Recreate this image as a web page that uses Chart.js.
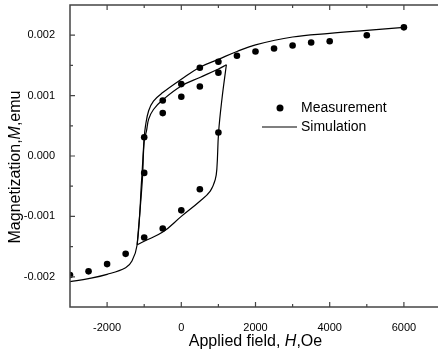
<!DOCTYPE html>
<html>
<head>
<meta charset="utf-8">
<script src="https://cdn.jsdelivr.net/npm/chart.js@4.4.1/dist/chart.umd.min.js"></script>
<style>
  html, body { margin: 0; padding: 0; overflow: hidden; background: #fff; }
  #wrap { position: absolute; left: 0; top: 0; width: 445px; height: 356px; }
</style>
</head>
<body>
<div id="wrap"><canvas id="loop"></canvas></div>
<script>
// measured moment (emu) vs applied field (Oe)
const measH = [-3000, -2500, -2000, -1500, -1000, -500, 0, 500, 1000,
               -500, 0, 500, 1000,
               -1000, -500, 0, 500, 1000, 1500, 2000, 2500, 3000, 3500, 4000, 5000, 6000,
               -1000];
const measM = [-0.00197, -0.00191, -0.00179, -0.00162, -0.00135, -0.00120, -0.00090, -0.00055, 0.00039,
               0.00071, 0.00098, 0.00115, 0.00138,
               0.00031, 0.00092, 0.00119, 0.00146, 0.00156, 0.00166, 0.00173, 0.00178, 0.00183, 0.00188, 0.00190, 0.00200, 0.00213,
               -0.00028];

// simulated loop
const outerH = [-3000, -2500, -2000, -1500, -1330, -1190, -1070, -1000, -965, -880, -750, -500, 0, 500, 1000, 1500, 2000, 3000, 4000, 5000, 6000];
const outerM = [-0.00208, -0.00203, -0.00196, -0.00185, -0.00174, -0.00147, -0.00040, 0.00030, 0.00050, 0.00075, 0.00091, 0.00105, 0.00127, 0.00147, 0.00160, 0.00173, 0.00184, 0.00197, 0.00203, 0.00208, 0.00213];
const lowerH = [-1190, -1000, -500, 0, 500, 780, 915, 960, 1005, 1095, 1215];
const lowerM = [-0.00147, -0.00141, -0.00126, -0.00100, -0.00075, -0.00058, -0.00039, -0.00020, 0.00039, 0.00094, 0.00151];
const upperH = [-1190, -1050, -1000, -940, -880, -750, -500, 0, 500, 1000, 1215];
const upperM = [-0.00147, -0.00040, 0.00025, 0.00041, 0.00061, 0.00077, 0.00093, 0.00116, 0.00130, 0.00144, 0.00151];

const xTicks = [-2000, 0, 2000, 4000, 6000];
const xMinor = [-1000, 1000, 3000, 5000];
const yTicks = [-0.002, -0.001, 0, 0.001, 0.002];
const yMinor = [-0.0015, -0.0005, 0.0005, 0.0015];

const FONT = '"Liberation Sans", Arial, sans-serif';

const pts = (hs, ms) => hs.map((h, i) => ({ x: h, y: ms[i] }));

function simLine(hs, ms) {
  return {
    label: 'Simulation', data: pts(hs, ms), showLine: true,
    borderColor: '#000', borderWidth: 1.2, pointRadius: 0,
    tension: 0.4, fill: false, clip: 0
  };
}

// mixed upright/italic text, centred on (0,0) of current transform
function mixedText(ctx, parts, size) {
  let total = 0;
  const widths = parts.map(([txt, it]) => {
    ctx.font = (it ? 'italic ' : '') + size + 'px ' + FONT;
    const w = ctx.measureText(txt).width; total += w; return w;
  });
  let x = -total / 2;
  parts.forEach(([txt, it], i) => {
    ctx.font = (it ? 'italic ' : '') + size + 'px ' + FONT;
    ctx.fillText(txt, x, 0);
    x += widths[i];
  });
}

const decor = {
  id: 'decor',
  afterDraw(chart) {
    const { ctx, chartArea: a, scales: { x, y } } = chart;
    ctx.save();
    ctx.strokeStyle = '#444';
    ctx.lineWidth = 1.5;
    ctx.strokeRect(a.left, a.top, a.right - a.left, a.bottom - a.top);

    // inward ticks
    ctx.lineWidth = 1.2;
    ctx.beginPath();
    const xt = (v, len) => {
      const px = x.getPixelForValue(v);
      ctx.moveTo(px, a.bottom); ctx.lineTo(px, a.bottom - len);
      ctx.moveTo(px, a.top); ctx.lineTo(px, a.top + len);
    };
    const yt = (v, len) => {
      const py = y.getPixelForValue(v);
      ctx.moveTo(a.left, py); ctx.lineTo(a.left + len, py);
    };
    xTicks.forEach(v => xt(v, 5)); xMinor.forEach(v => xt(v, 3));
    yTicks.forEach(v => yt(v, 5)); yMinor.forEach(v => yt(v, 3));
    ctx.stroke();

    // legend
    ctx.fillStyle = '#000';
    ctx.beginPath(); ctx.arc(280, 108, 3.5, 0, Math.PI * 2); ctx.fill();
    ctx.strokeStyle = '#000'; ctx.lineWidth = 1.2;
    ctx.beginPath(); ctx.moveTo(262, 127); ctx.lineTo(297, 127); ctx.stroke();
    ctx.font = '14px ' + FONT;
    ctx.textBaseline = 'middle'; ctx.textAlign = 'left';
    ctx.fillText('Measurement', 301, 108);
    ctx.fillText('Simulation', 301, 127);

    // axis titles
    ctx.save();
    ctx.translate((a.left + a.right) / 2, 342);
    mixedText(ctx, [['Applied field, ', false], ['H', true], [',Oe', false]], 16);
    ctx.restore();
    ctx.save();
    ctx.translate(15.5, (a.top + a.bottom) / 2 + 11);
    ctx.rotate(-Math.PI / 2);
    mixedText(ctx, [['Magnetization,', false], ['M', true], [',emu', false]], 16);
    ctx.restore();
    ctx.restore();
  }
};

new Chart(document.getElementById('loop'), {
  type: 'scatter',
  data: {
    datasets: [
      { label: 'Measurement', data: pts(measH, measM), pointRadius: 3.3,
        backgroundColor: '#000', borderWidth: 0, clip: 0 },
      simLine(outerH, outerM),
      simLine(lowerH, lowerM),
      simLine(upperH, upperM)
    ]
  },
  options: {
    responsive: true, maintainAspectRatio: false, animation: false, events: [],
    layout: { padding: { top: 5, left: 0, right: 0, bottom: 0 } },
    plugins: { legend: { display: false }, tooltip: { enabled: false } },
    scales: {
      x: {
        min: -3000, max: 7000,
        grid: { display: false }, border: { display: false },
        afterBuildTicks: s => { s.ticks = xTicks.map(v => ({ value: v })); },
        afterFit: s => { s.height = 49; s.paddingLeft = 0; s.paddingRight = 0; },
        ticks: { padding: 6, color: '#000', font: { family: FONT, size: 11 }, maxRotation: 0,
                 callback: v => String(v) }
      },
      y: {
        min: -0.0025, max: 0.0025,
        grid: { display: false }, border: { display: false },
        afterBuildTicks: s => { s.ticks = yTicks.map(v => ({ value: v })); },
        afterFit: s => { s.width = 70; s.paddingTop = 0; s.paddingBottom = 0; },
        ticks: { padding: 7, color: '#000', font: { family: FONT, size: 11 },
                 callback: v => v.toFixed(3) }
      }
    }
  },
  plugins: [decor]
});
</script>
</body>
</html>
